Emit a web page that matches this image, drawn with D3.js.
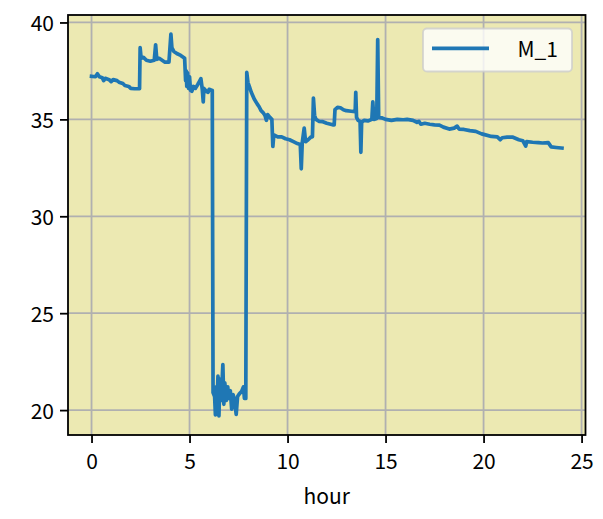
<!DOCTYPE html>
<html><head><meta charset="utf-8">
<script src="https://cdn.jsdelivr.net/npm/d3@7"></script>
<style>body{margin:0;background:#fff;} text{font-family:"Noto Sans CJK JP","Noto Sans",sans-serif;}</style>
</head><body><svg id="c" width="603" height="519"></svg>
<script>
const seriesName = "M_1";
const xLabel = "hour";
const xTicks = [0, 5, 10, 15, 20, 25];
const yTicks = [20, 25, 30, 35, 40];
const hours = [0,0.2,0.3,0.4,0.55,0.62,0.7,0.9,1.0,1.1,1.3,1.4,1.6,1.7,1.9,2.0,2.2,2.45,2.48,2.53,2.65,2.8,3.0,3.2,3.27,3.33,3.45,3.6,3.75,3.95,4.05,4.1,4.2,4.35,4.55,4.75,4.8,4.83,4.86,4.9,4.95,5.0,5.05,5.12,5.2,5.3,5.42,5.5,5.58,5.65,5.7,5.73,5.85,5.95,6.0,6.12,6.16,6.2,6.28,6.32,6.36,6.4,6.45,6.5,6.55,6.62,6.7,6.75,6.8,6.88,6.95,7.0,7.08,7.15,7.22,7.3,7.38,7.45,7.55,7.65,7.75,7.8,7.87,7.92,7.98,8.05,8.15,8.3,8.45,8.55,8.65,8.75,8.85,8.92,8.98,9.1,9.2,9.25,9.3,9.5,9.7,9.9,10.1,10.3,10.5,10.65,10.7,10.75,10.85,10.92,11.05,11.2,11.27,11.32,11.38,11.45,11.6,11.8,12.0,12.3,12.38,12.42,12.55,12.7,12.85,13.0,13.25,13.45,13.48,13.52,13.6,13.7,13.74,13.78,13.9,14.1,14.3,14.35,14.4,14.55,14.6,14.65,14.8,15.0,15.3,15.6,15.9,16.1,16.4,16.6,16.7,16.8,17.0,17.25,17.5,17.75,17.95,18.25,18.5,18.65,18.75,19.0,19.3,19.6,19.9,20.1,20.4,20.7,20.85,20.95,21.2,21.5,21.8,22.0,22.15,22.2,22.5,22.8,23.0,23.3,23.45,23.7,24.0];
const values = [37.22,37.2,37.35,37.2,37.15,37.0,37.12,37.05,36.95,37.05,37.0,36.92,36.85,36.75,36.7,36.6,36.58,36.58,38.7,38.15,38.2,38.05,38.0,38.05,38.85,38.1,38.15,38.05,37.95,37.95,39.4,38.7,38.5,38.4,38.3,38.15,37.0,37.5,36.7,37.4,36.6,37.2,36.5,36.45,36.7,36.6,36.8,36.95,37.1,36.55,35.9,36.6,36.45,36.4,36.55,36.5,36.5,20.9,20.7,19.75,21.2,20.2,21.75,19.7,21.6,20.5,22.35,20.3,21.4,20.5,21.2,20.6,21.0,20.05,20.8,20.5,19.78,20.7,20.85,20.95,21.2,20.6,20.6,37.42,36.9,36.7,36.4,36.05,35.8,35.65,35.45,35.35,35.2,34.95,35.25,35.1,35.0,33.6,34.2,34.1,34.1,34.0,33.95,33.85,33.75,33.7,32.45,33.8,34.55,33.85,33.95,34.1,34.1,36.1,35.2,35.0,34.9,34.88,34.8,34.72,34.72,35.5,35.62,35.6,35.5,35.45,35.42,35.4,36.4,35.1,34.95,34.9,33.3,34.85,34.95,34.92,35.0,35.9,35.0,35.05,39.12,35.1,35.08,35.0,34.95,35.0,34.98,35.0,34.95,34.85,34.9,34.75,34.8,34.75,34.72,34.7,34.6,34.5,34.55,34.65,34.5,34.48,34.42,34.38,34.25,34.2,34.12,34.1,33.95,34.05,34.08,34.08,33.95,33.9,33.62,33.85,33.82,33.8,33.78,33.8,33.58,33.55,33.52];

const data = hours.map((h, i) => ({h, v: values[i]}));
const svg = d3.select("#c");
const L = 68, R = 585.5, T = 15, B = 435;
const xe = d3.extent(hours), ye = d3.extent(values);
const xm = (xe[1]-xe[0])*0.05, ym = (ye[1]-ye[0])*0.05;
const x = d3.scaleLinear().domain([xe[0]-xm, xe[1]+xm]).range([L, R]);
const y = d3.scaleLinear().domain([ye[0]-ym, ye[1]+ym]).range([B, T]);

svg.append("rect").attr("x", L).attr("y", T).attr("width", R-L).attr("height", B-T).attr("fill", "#ece9b2");

const g = svg.append("g");
g.selectAll(".gx").data(xTicks).join("line")
  .attr("x1", d => x(d)).attr("x2", d => x(d)).attr("y1", T).attr("y2", B)
  .attr("stroke", "#b0b0b0").attr("stroke-width", 1.8);
g.selectAll(".gy").data(yTicks).join("line").attr("class","gy")
  .attr("y1", d => y(d)).attr("y2", d => y(d)).attr("x1", L).attr("x2", R)
  .attr("stroke", "#b0b0b0").attr("stroke-width", 1.8);

const line = d3.line().x(d => x(d.h)).y(d => y(d.v));
svg.append("path").datum(data).attr("d", line)
  .attr("fill", "none").attr("stroke", "#1f77b4").attr("stroke-width", 3.7)
  .attr("stroke-linejoin", "round").attr("stroke-linecap", "square");

// axes
const xAxis = d3.axisBottom(x).tickValues(xTicks).tickSize(8).tickPadding(6).tickFormat(d3.format("d"));
const yAxis = d3.axisLeft(y).tickValues(yTicks).tickSize(8).tickPadding(6).tickFormat(d3.format("d"));
const gx = svg.append("g").attr("transform", `translate(0,${B})`).call(xAxis);
const gy = svg.append("g").attr("transform", `translate(${L},0)`).call(yAxis);
[gx, gy].forEach(a => {
  a.select(".domain").remove();
  a.selectAll(".tick line").attr("stroke", "#000").attr("stroke-width", 1.8);
  a.selectAll(".tick text").attr("fill", "#000").style("font-size", "21px");
});
gx.selectAll(".tick text").attr("dy", "0.95em");
gy.selectAll(".tick text").attr("dy", "0.38em");

svg.append("rect").attr("x", L).attr("y", T).attr("width", R-L).attr("height", B-T)
  .attr("fill", "none").attr("stroke", "#000").attr("stroke-width", 1.8);

svg.append("text").attr("x", (L+R)/2).attr("y", 504).attr("text-anchor", "middle")
  .style("font-size", "21px").attr("fill", "#000").text(xLabel);

// legend
const lg = svg.append("g");
lg.append("rect").attr("x", 423).attr("y", 28.5).attr("width", 149).attr("height", 43).attr("rx", 4)
  .attr("fill", "#fff").attr("fill-opacity", 0.8).attr("stroke", "#cccccc").attr("stroke-opacity", 0.8).attr("stroke-width", 1.8);
lg.append("line").attr("x1", 432).attr("x2", 489).attr("y1", 48.3).attr("y2", 48.3)
  .attr("stroke", "#1f77b4").attr("stroke-width", 3.7);
lg.append("text").attr("x", 558).attr("y", 57).attr("text-anchor", "end")
  .style("font-size", "21px").attr("fill", "#000").text(seriesName);
</script></body></html>
